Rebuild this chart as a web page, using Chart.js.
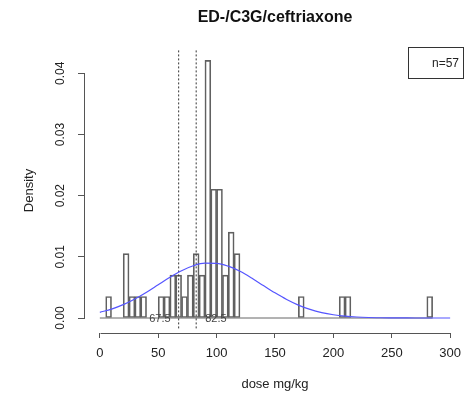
<!DOCTYPE html>
<html><head><meta charset="utf-8">
<script src="https://cdn.jsdelivr.net/npm/chart.js@4.4.1/dist/chart.umd.min.js"></script>
<style>html,body{margin:0;padding:0;background:#fff;}</style>
</head><body>
<canvas id="c" width="469" height="398"></canvas>
<script>
// ---- data ----
const chartTitle = "ED-/C3G/ceftriaxone";
const xLabel = "dose mg/kg";
const yLabel = "Density";
const legendText = "n=57";
const nTotal = 57;
const binWidth = 5;
const binStarts = [0,5,10,15,20,25,30,35,40,45,50,55,60,65,70,75,80,85,90,95,100,105,110,115,120,125,130,135,140,145,150,155,160,165,170,175,180,185,190,195,200,205,210,215,220,225,230,235,240,245,250,255,260,265,270,275,280];
const binCounts = [0,1,0,0,3,1,1,1,0,0,1,1,2,2,1,2,3,2,12,6,6,2,4,3,0,0,0,0,0,0,0,0,0,0,1,0,0,0,0,0,0,1,1,0,0,0,0,0,0,0,0,0,0,0,0,0,1];
const xTicks = [0,50,100,150,200,250,300];
const xTickLabels = ["0","50","100","150","200","250","300"];
const yTicks = [0,0.01,0.02,0.03,0.04];
const yTickLabels = ["0.00","0.01","0.02","0.03","0.04"];
const curveX = [0,10,20,30,40,50,60,70,80,90,100,110,120,130,140,150,160,170,180,190,200,210,220,230,240,250,260,270,280,290,300];
const curveY = [0.00093,0.00146,0.00219,0.00312,0.00422,0.00544,0.00665,0.00773,0.00854,0.00896,0.00894,0.00847,0.00763,0.00653,0.00531,0.00411,0.00302,0.00211,0.00140,0.00088,0.00053,0.00030,0.00016,0.00008,0.00004,0.00002,0.00001,0,0,0,0];
const refLines = [67.5, 82.5];
const refLabels = ["67.5", "82.5"];
const refLineSpan = [-0.0017, 0.0438];

const FONT = '"Liberation Sans", Arial, sans-serif';

const histData = binStarts.map((s, i) => ({ x: s + binWidth / 2, y: binCounts[i] / (nTotal * binWidth) }));
const lastEdge = binStarts[binStarts.length - 1] + binWidth;

const decor = {
  id: 'decor',
  afterDraw(chart) {
    const { ctx, chartArea, scales: { x, y } } = chart;
    ctx.save();
    // axis lines (R style, tick range only)
    ctx.strokeStyle = '#555';
    ctx.lineWidth = 1;
    ctx.beginPath();
    const yb = Math.round(chartArea.bottom) + 0.5;
    ctx.moveTo(Math.round(x.getPixelForValue(xTicks[0])) + 0.5, yb);
    ctx.lineTo(Math.round(x.getPixelForValue(xTicks[xTicks.length - 1])) + 0.5, yb);
    const xl = Math.round(chartArea.left) - 0.5;
    ctx.moveTo(xl, Math.round(y.getPixelForValue(yTicks[0])) + 0.5);
    ctx.lineTo(xl, Math.round(y.getPixelForValue(yTicks[yTicks.length - 1])) + 0.5);
    ctx.stroke();

    // title
    ctx.fillStyle = '#111';
    ctx.font = 'bold 16px ' + FONT;
    ctx.textAlign = 'center';
    ctx.textBaseline = 'middle';
    ctx.fillText(chartTitle, (chartArea.left + chartArea.right) / 2, 18);

    // reference line labels
    ctx.font = '11px ' + FONT;
    ctx.fillStyle = '#444';
    const yl = y.getPixelForValue(0) + 1;
    ctx.textAlign = 'right';
    ctx.fillText(refLabels[0], x.getPixelForValue(refLines[0]) - 8, yl);
    ctx.textAlign = 'left';
    ctx.fillText(refLabels[1], x.getPixelForValue(refLines[1]) + 9, yl);

    // legend box
    ctx.strokeStyle = '#333';
    ctx.strokeRect(408.5, 47.5, 55, 31);
    ctx.font = '12px ' + FONT;
    ctx.fillStyle = '#222';
    ctx.textAlign = 'right';
    ctx.fillText(legendText, 459, 64);
    ctx.restore();
  }
};

new Chart(document.getElementById('c'), {
  type: 'bar',
  data: {
    datasets: [
      { type: 'bar', label: 'hist', data: histData, backgroundColor: 'rgba(0,0,0,0)', borderColor: '#606060', borderWidth: 1, borderSkipped: false, barPercentage: 1, categoryPercentage: 1, order: 4 },
      { type: 'line', label: 'base', data: [{ x: binStarts[0], y: 0 }, { x: lastEdge, y: 0 }], borderColor: '#666', borderWidth: 1, pointRadius: 0, order: 3 },
      { type: 'line', label: 'normal', data: curveX.map((v, i) => ({ x: v, y: curveY[i] })), borderColor: '#5555ff', borderWidth: 1.2, pointRadius: 0, cubicInterpolationMode: 'monotone', order: 1 },
      ...refLines.map(v => ({ type: 'line', label: 'ref' + v, data: [{ x: v, y: refLineSpan[0] }, { x: v, y: refLineSpan[1] }], borderColor: '#333', borderWidth: 1, borderDash: [2, 2], pointRadius: 0, order: 2 }))
    ]
  },
  options: {
    responsive: false,
    animation: false,
    devicePixelRatio: 1,
    layout: { padding: { top: 48, right: 0, bottom: 0, left: 0 } },
    plugins: { legend: { display: false }, tooltip: { enabled: false }, title: { display: false } },
    scales: {
      x: {
        type: 'linear', min: -12.712, max: 312.71, offset: false,
        afterFit: s => { s.height = 65; },
        afterBuildTicks: s => { s.ticks = xTicks.map(v => ({ value: v })); },
        ticks: { callback: (v, i) => xTickLabels[i], font: { family: FONT, size: 13 }, color: '#222', padding: 8, maxRotation: 0, minRotation: 0, autoSkip: false },
        grid: { display: true, offset: false, drawOnChartArea: false, drawTicks: true, tickLength: 5, color: '#555' },
        border: { display: false },
        title: { display: true, text: xLabel, font: { family: FONT, size: 13 }, color: '#222', padding: { top: 0, bottom: 6 } }
      },
      y: {
        type: 'linear', min: -0.002452, max: 0.044136,
        afterFit: s => { s.width = 85; },
        afterBuildTicks: s => { s.ticks = yTicks.map(v => ({ value: v })); },
        ticks: { callback: (v, i) => yTickLabels[i], font: { family: FONT, size: 12 }, color: '#222', padding: 6, minRotation: 90, maxRotation: 90, crossAlign: 'center', autoSkip: false },
        grid: { display: true, drawOnChartArea: false, drawTicks: true, tickLength: 7, color: '#555' },
        border: { display: false },
        title: { display: true, text: yLabel, font: { family: FONT, size: 13 }, color: '#222', padding: { top: 22, bottom: 0 } }
      }
    }
  },
  plugins: [decor]
});
</script>
</body></html>
